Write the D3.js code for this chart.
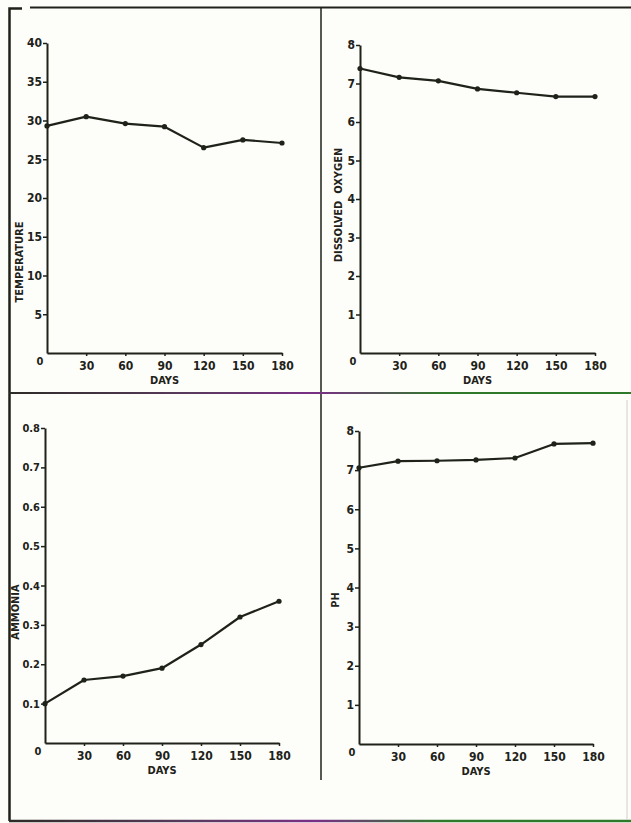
<!DOCTYPE html>
<html>
<head>
<meta charset="utf-8">
<script src="https://cdn.jsdelivr.net/npm/d3@7"></script>
<style>
  body { margin: 0; background: #fdfdf9; }
  svg { display: block; }
  .tick text { font-family: "DejaVu Sans Condensed", "DejaVu Sans", sans-serif; font-weight: bold; font-size: 12px; fill: #1e2219; }
  .lbl { font-family: "DejaVu Sans Condensed", "DejaVu Sans", sans-serif; font-size: 11px; fill: #1e2219; }
</style>
</head>
<body>
<script>
// Data
var days = [0, 30, 60, 90, 120, 150, 180];
var dayTicks = [30, 60, 90, 120, 150, 180];

var temperature = [29.3, 30.5, 29.6, 29.2, 26.5, 27.5, 27.1];
var dissolvedOxygen = [7.39, 7.16, 7.07, 6.86, 6.76, 6.66, 6.66];
var ammonia = [0.10, 0.16, 0.17, 0.19, 0.25, 0.32, 0.36];
var ph = [7.06, 7.23, 7.24, 7.26, 7.31, 7.67, 7.69];

var tempTicks = [5, 10, 15, 20, 25, 30, 35, 40];
var doTicks = [1, 2, 3, 4, 5, 6, 7, 8];
var ammoniaTicks = [0.1, 0.2, 0.3, 0.4, 0.5, 0.6, 0.7, 0.8];
var phTicks = [1, 2, 3, 4, 5, 6, 7, 8];

var ink = "#1e2219";

var panels = [
  { values: temperature, ticks: tempTicks, max: 40, fmt: d3.format("d"), label: "TEMPERATURE",
    x0: 47, x1: 282, y0: 353, y1: 43, labelX: 19, labelY: 262, yFont: 12 },
  { values: dissolvedOxygen, ticks: doTicks, max: 8, fmt: d3.format("d"), label: "DISSOLVED\u00a0\u00a0OXYGEN",
    x0: 360, x1: 595, y0: 353, y1: 45, labelX: 338, labelY: 205, yFont: 12 },
  { values: ammonia, ticks: ammoniaTicks, max: 0.8, fmt: d3.format(".1f"), label: "AMMONIA",
    x0: 45, x1: 279, y0: 743, y1: 428, labelX: 15, labelY: 612, yFont: 11 },
  { values: ph, ticks: phTicks, max: 8, fmt: d3.format("d"), label: "PH",
    x0: 359, x1: 593, y0: 744, y1: 431, labelX: 335, labelY: 600, yFont: 12 }
];

var svg = d3.select("body").append("svg")
    .attr("width", 631)
    .attr("height", 823);

// scanner colour fringe on the divider lines
var grad = svg.append("defs").append("linearGradient")
    .attr("id", "fringe")
    .attr("gradientUnits", "userSpaceOnUse")
    .attr("x1", 0).attr("x2", 631).attr("y1", 0).attr("y2", 0);
grad.append("stop").attr("offset", "0").attr("stop-color", "#2b2b24");
grad.append("stop").attr("offset", "0.3").attr("stop-color", "#5a3a5e");
grad.append("stop").attr("offset", "0.5").attr("stop-color", "#7a2f86");
grad.append("stop").attr("offset", "0.7").attr("stop-color", "#2f7a2a");
grad.append("stop").attr("offset", "1").attr("stop-color", "#2c7a2a");

//Frame
var frame = svg.append("g").attr("stroke", ink).attr("fill", "none");
frame.append("path").attr("d", "M9.5,821 V8.5 H22").attr("stroke-width", 2.5);
frame.append("line").attr("x1", 30).attr("x2", 631).attr("y1", 7.5).attr("y2", 7.5).attr("stroke-width", 2);
frame.append("line").attr("x1", 321).attr("x2", 321).attr("y1", 8).attr("y2", 780).attr("stroke-width", 1.5);
frame.append("line").attr("x1", 9).attr("x2", 631).attr("y1", 393).attr("y2", 393)
    .attr("stroke", "url(#fringe)").attr("stroke-width", 2);
frame.append("line").attr("x1", 9).attr("x2", 631).attr("y1", 821).attr("y2", 821)
    .attr("stroke", "url(#fringe)").attr("stroke-width", 2.5);
frame.append("line").attr("x1", 627).attr("x2", 627).attr("y1", 400).attr("y2", 820)
    .attr("stroke", "#cfd0c4").attr("stroke-width", 1);

panels.forEach(function (p) {
  var x = d3.scaleLinear().domain([0, 180]).range([p.x0, p.x1]);
  var y = d3.scaleLinear().domain([0, p.max]).range([p.y0, p.y1]);

  var g = svg.append("g");

  // x axis
  g.append("g")
      .attr("transform", `translate(0,${p.y0})`)
      .call(d3.axisBottom(x).tickValues(dayTicks).tickSize(3).tickPadding(5).tickSizeOuter(0))
      .call(g => g.select(".domain").attr("stroke", ink).attr("stroke-width", 2))
      .call(g => g.selectAll(".tick line").attr("stroke", ink).attr("stroke-width", 1.5));

  // y axis
  g.append("g")
      .attr("transform", `translate(${p.x0},0)`)
      .call(d3.axisLeft(y).tickValues(p.ticks).tickFormat(p.fmt).tickSize(4).tickPadding(1).tickSizeOuter(0))
      .call(g => g.select(".domain").attr("stroke", ink).attr("stroke-width", 2))
      .call(g => g.selectAll(".tick line").attr("stroke", ink).attr("stroke-width", 1.5))
      .call(g => g.selectAll(".tick text").style("font-size", p.yFont + "px"));

  // shared origin label
  g.append("text")
      .attr("class", "lbl")
      .attr("font-weight", "bold")
      .attr("font-size", 12)
      .attr("x", p.x0 - 7)
      .attr("y", p.y0 + 12)
      .attr("text-anchor", "middle")
      .text("0");

  // axis titles
  g.append("text")
      .attr("class", "lbl")
      .attr("font-weight", "600")
      .attr("x", (p.x0 + p.x1) / 2)
      .attr("y", p.y0 + 31)
      .attr("text-anchor", "middle")
      .text("DAYS");

  g.append("text")
      .attr("class", "lbl")
      .attr("font-weight", "600")
      .attr("transform", `translate(${p.labelX + 4},${p.labelY}) rotate(-90)`)
      .attr("text-anchor", "middle")
      .text(p.label);

  var line = d3.line()
      .x((d, i) => x(days[i]))
      .y(d => y(d));

  g.append("path")
      .datum(p.values)
      .attr("fill", "none")
      .attr("stroke", ink)
      .attr("stroke-width", 2.2)
      .attr("stroke-linejoin", "round")
      .attr("d", line);

  g.selectAll(".pt")
      .data(p.values)
      .join("circle")
      .attr("class", "pt")
      .attr("cx", (d, i) => x(days[i]))
      .attr("cy", d => y(d))
      .attr("r", 2.6)
      .attr("fill", ink);
});
</script>
</body>
</html>
